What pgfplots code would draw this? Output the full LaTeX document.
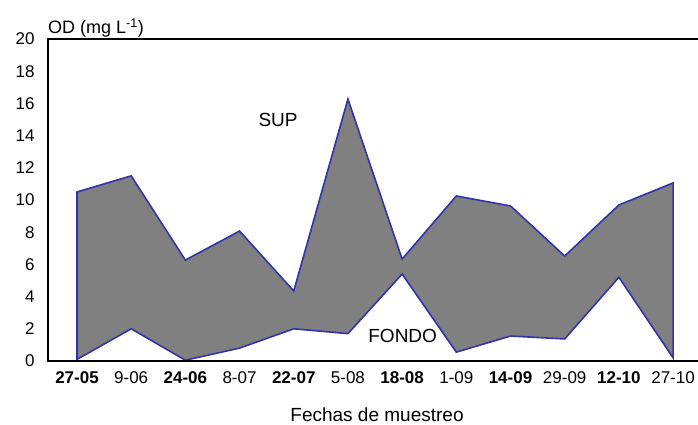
\documentclass[border=0pt]{standalone}
\usepackage{pgfplots}
\pgfplotsset{compat=1.18}
\usepackage{fontspec}
\setmainfont{Liberation Sans}
\definecolor{edgeblue}{RGB}{50,50,170}
\definecolor{fillgray}{RGB}{128,128,128}
\begin{document}
\begin{tikzpicture}
\begin{axis}[
  scale only axis,
  width=650bp, height=322bp,
  xmin=-0.535, xmax=11.46,
  ymin=0, ymax=20,
  ytick={0,2,...,20},
  xtick={0,...,11},
  xticklabels={\textbf{27-05},9-06,\textbf{24-06},8-07,\textbf{22-07},5-08,\textbf{18-08},1-09,\textbf{14-09},29-09,\textbf{12-10},27-10},
  major tick length=0pt,
  axis line style={draw=none},
  ticklabel style={font=\fontsize{17bp}{19bp}\selectfont},
  /pgf/number format/assume math mode=true,
  yticklabel style={xshift=-10bp},
  xticklabel style={yshift=-7bp},
  clip=false,
  after end axis/.code={
    \draw[black, line width=1.2bp] (rel axis cs:1,0) -- (rel axis cs:0,0) -- (rel axis cs:0,1) -- (rel axis cs:1,1);
  },
]
\addplot[fill=fillgray, draw=edgeblue, line width=1.6bp, line join=miter] coordinates {
  (0,10.5) (1,11.5) (2,6.27) (3,8.07) (4,4.35) (5,16.27) (6,6.33) (7,10.25) (8,9.63) (9,6.52) (10,9.69) (11,11.06)
  (11,0.2) (10,5.2) (9,1.37) (8,1.55) (7,0.55) (6,5.4) (5,1.7) (4,2.0) (3,0.8) (2,0.05) (1,2.0) (0,0.1)
} -- cycle;
\node[font=\fontsize{19bp}{21bp}\selectfont] at (axis cs:3.71,14.97) {SUP};
\node[font=\fontsize{19bp}{21bp}\selectfont] at (axis cs:6.01,1.58) {FONDO};
\node[anchor=base west, font=\fontsize{18bp}{20bp}\selectfont, inner sep=0pt] at ([xshift=0bp,yshift=5bp]rel axis cs:0,1) {OD (mg L\textsuperscript{-1})};
\node[anchor=base, font=\fontsize{19bp}{21bp}\selectfont, inner sep=0pt] at ([xshift=4bp,yshift=-60bp]rel axis cs:0.5,0) {Fechas de muestreo};
\end{axis}
\pgfresetboundingbox
\path ([xshift=-48bp,yshift=-64bp]current axis.south west) rectangle ([yshift=39bp]current axis.north east);
\end{tikzpicture}
\end{document}
